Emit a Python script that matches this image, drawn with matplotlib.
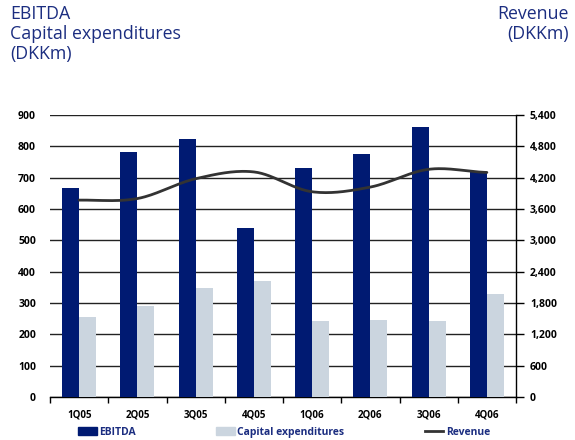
import numpy as np
import matplotlib
matplotlib.use("Agg")
import matplotlib.pyplot as plt
from matplotlib.patches import Patch
from matplotlib.lines import Line2D

quarters = ["1Q05", "2Q05", "3Q05", "4Q05", "1Q06", "2Q06", "3Q06", "4Q06"]
ebitda = [667, 782, 823, 539, 731, 776, 863, 718]
capex = [255, 290, 348, 370, 243, 245, 242, 328]
revenue = [3770, 3800, 4180, 4310, 3930, 4020, 4360, 4300]

left_ticks = list(range(0, 901, 100))
right_ticks = list(range(0, 5401, 600))

NAVY = "#001a72"
LIGHT = "#cbd5df"
LINE = "#333333"
TEXT = "#1b2d80"

plt.rcParams["font.family"] = ["Open Sans", "DejaVu Sans"]

fig = plt.figure(figsize=(5.75, 4.4), dpi=100)
ax = fig.add_axes([50 / 575, 1 - 397 / 440, 466 / 575, 282 / 440])
ax2 = ax.twinx()

x = np.arange(len(quarters))
w = 0.29
ax.bar(x - w / 2, ebitda, width=w, color=NAVY, zorder=3)
ax.bar(x + w / 2, capex, width=w, color=LIGHT, zorder=3)


def catmull_rom(xs, ys, n=30):
    xs = np.asarray(xs, float)
    ys = np.asarray(ys, float)
    px = np.concatenate([[2 * xs[0] - xs[1]], xs, [2 * xs[-1] - xs[-2]]])
    py = np.concatenate([[ys[0]], ys, [ys[-1]]])
    outx, outy = [], []
    for i in range(1, len(px) - 2):
        t = np.linspace(0, 1, n, endpoint=(i == len(px) - 3))
        for arr, out in ((px, outx), (py, outy)):
            p0, p1, p2, p3 = arr[i - 1], arr[i], arr[i + 1], arr[i + 2]
            out.append(0.5 * ((2 * p1) + (-p0 + p2) * t
                              + (2 * p0 - 5 * p1 + 4 * p2 - p3) * t ** 2
                              + (-p0 + 3 * p1 - 3 * p2 + p3) * t ** 3))
    return np.concatenate(outx), np.concatenate(outy)


sx, sy = catmull_rom(x, revenue)
ax2.plot(sx, sy, color=LINE, lw=2.0, solid_capstyle="round", zorder=4)

ax.set_xlim(-0.5, len(quarters) - 0.5)
ax.set_ylim(0, 900)
ax2.set_ylim(0, 5400)

ax.set_yticks(left_ticks)
ax.set_yticklabels([f"{v:,}" for v in left_ticks])
ax2.set_yticks(right_ticks)
ax2.set_yticklabels([f"{v:,}" for v in right_ticks])

for v in left_ticks:
    ax.axhline(v, color="#222222", lw=1.0, zorder=1)

ax.set_xticks(x)
ax.set_xticklabels(quarters)
ax.set_xticks(np.arange(-0.5, len(quarters)), minor=True)
ax.tick_params(axis="x", which="major", length=0, pad=9, labelsize=7)
ax.tick_params(axis="x", which="minor", length=4, width=1, color="black")
ax.tick_params(axis="y", length=0, pad=10, labelsize=7.5)
ax2.tick_params(axis="y", length=6, width=1, color="black", pad=4, labelsize=7.5)

for lab in ax.get_xticklabels() + ax.get_yticklabels() + ax2.get_yticklabels():
    lab.set_fontweight("bold")
    lab.set_color("black")

for a in (ax, ax2):
    for s in ("top", "left"):
        a.spines[s].set_visible(False)
ax.spines["right"].set_visible(False)
ax2.spines["bottom"].set_visible(False)
ax2.spines["right"].set_color("black")
ax2.spines["right"].set_linewidth(1.0)
ax.spines["bottom"].set_color("black")
ax.spines["bottom"].set_linewidth(1.0)

fig.text(10 / 575, 1 - 5 / 440, "EBITDA\nCapital expenditures\n(DKKm)",
         ha="left", va="top", fontsize=12.8, color=TEXT, linespacing=1.15)
fig.text(569 / 575, 1 - 5 / 440, "Revenue\n(DKKm)",
         ha="right", va="top", fontsize=12.8, color=TEXT, linespacing=1.15,
         multialignment="right")

handles = [Patch(color=NAVY, label="EBITDA"),
           Patch(color=LIGHT, label="Capital expenditures"),
           Line2D([0], [0], color=LINE, lw=2, label="Revenue")]
leg = fig.legend(handles=handles, loc="center", ncol=3,
                 bbox_to_anchor=(284 / 575, 1 - 432 / 440),
                 frameon=False, fontsize=7.5, columnspacing=7.7,
                 handlelength=1.8, handleheight=0.7, handletextpad=0.25)
for t in leg.get_texts():
    t.set_color(TEXT)
    t.set_fontweight("bold")

fig.savefig("out.png", dpi=100)
